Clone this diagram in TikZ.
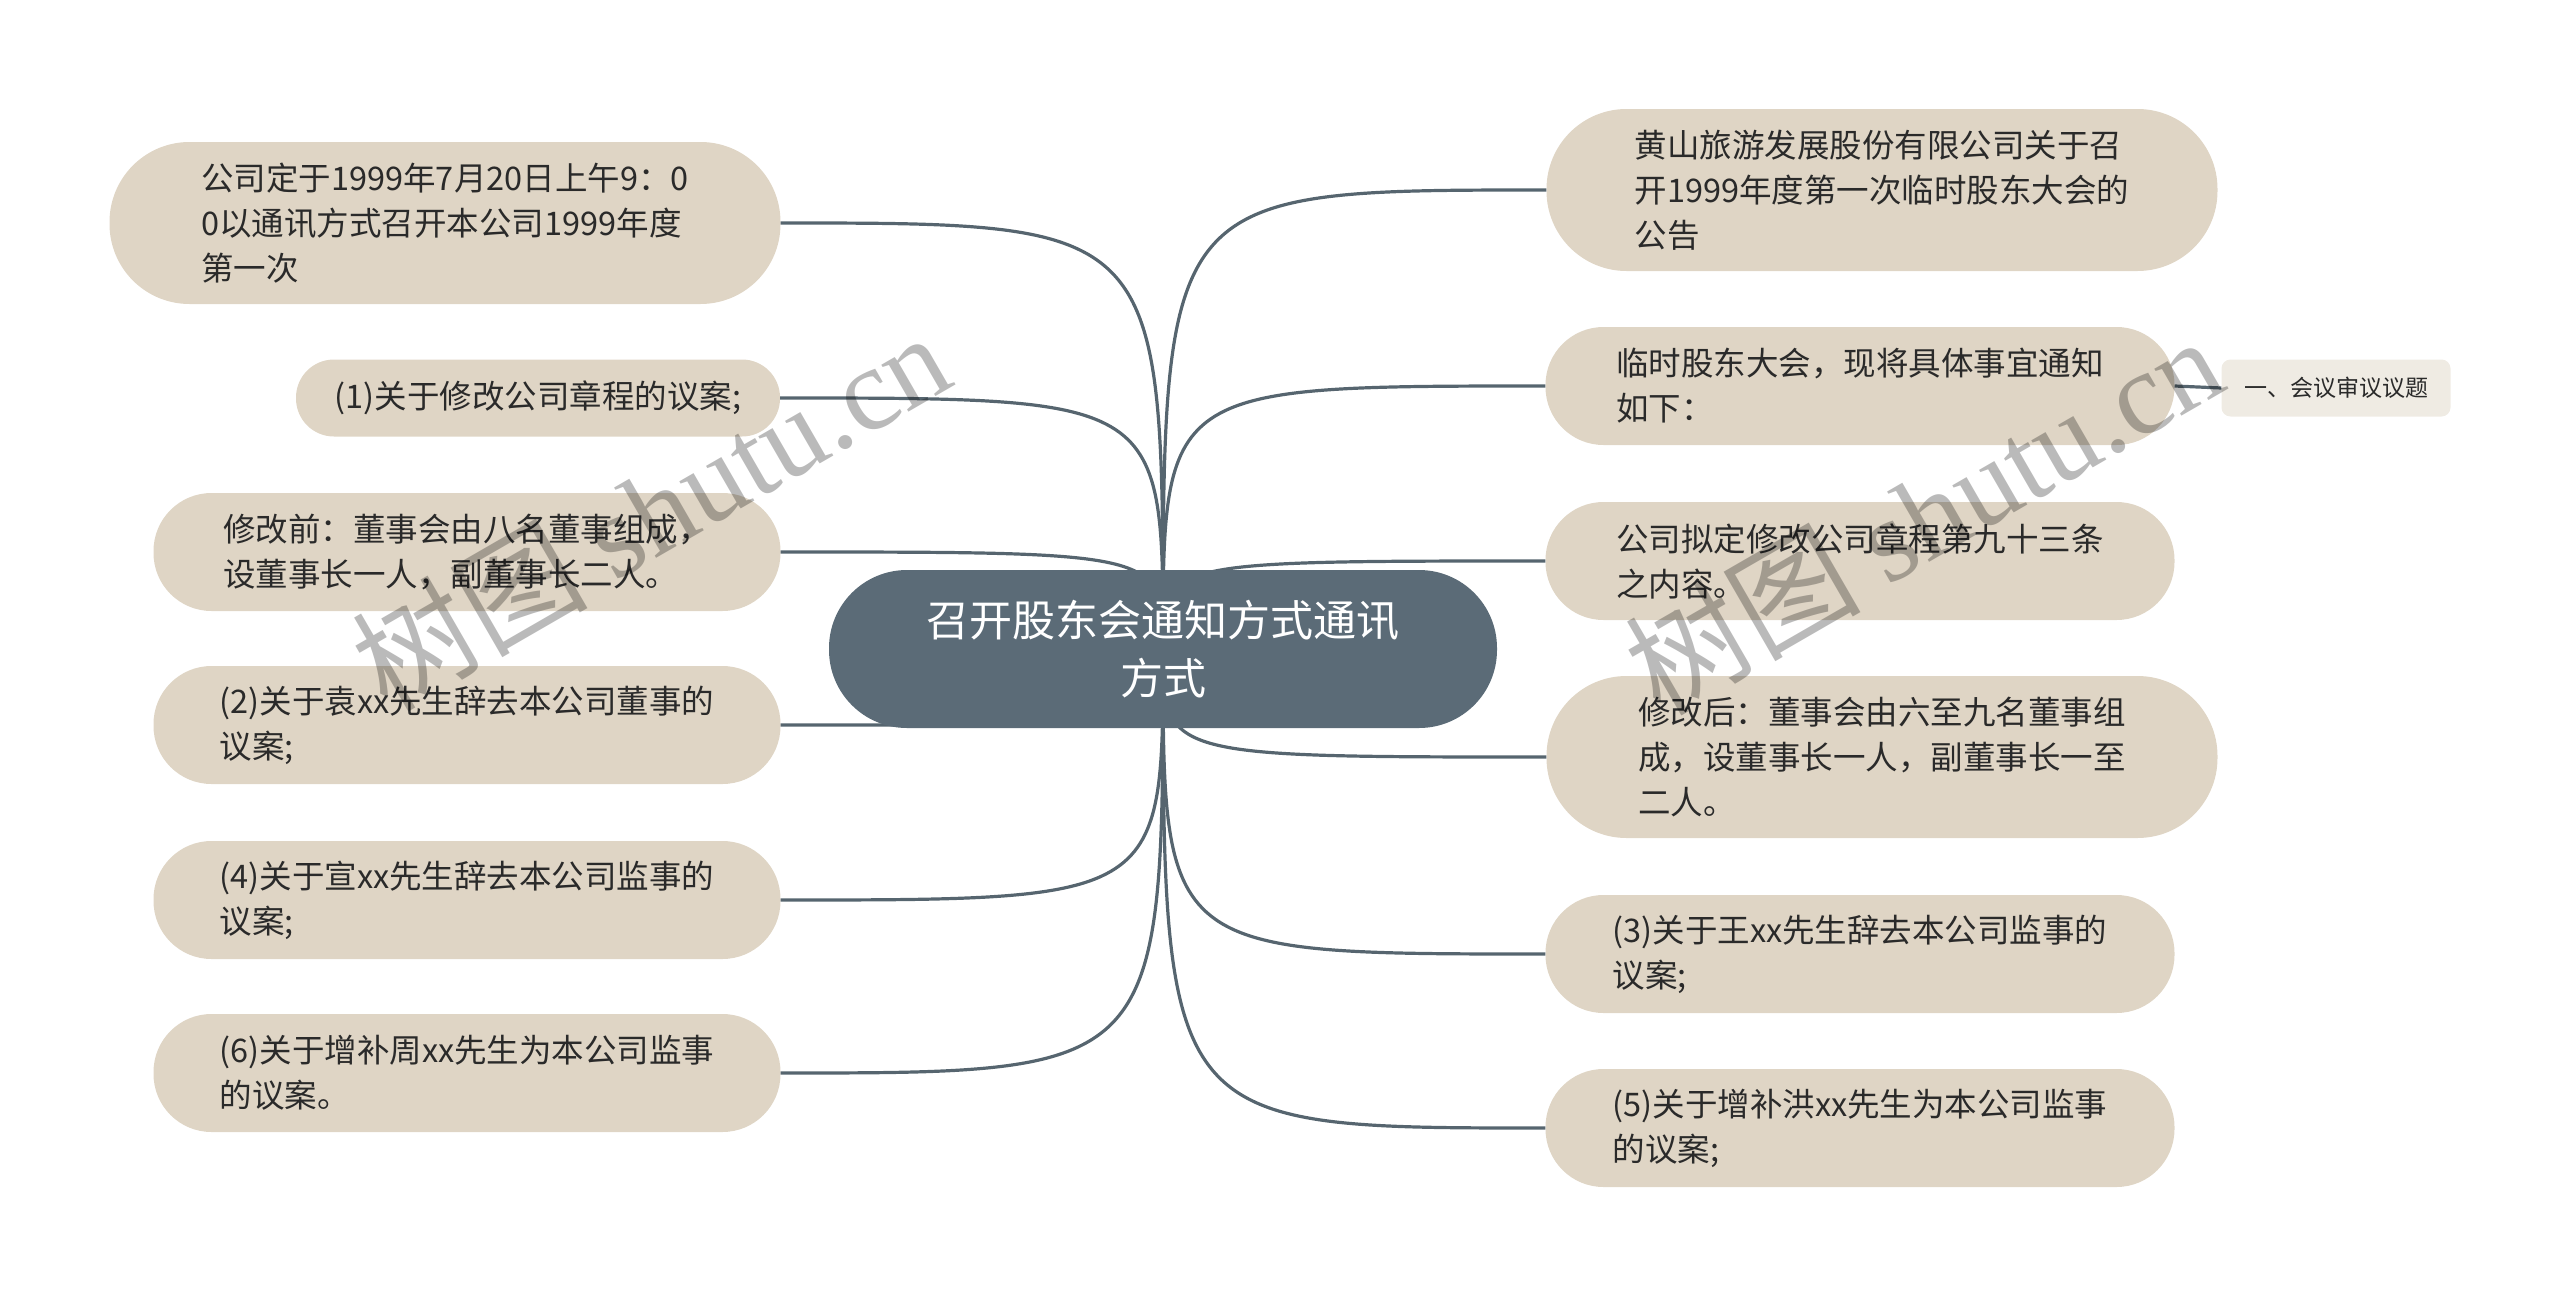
\documentclass[tikz,border=0pt]{standalone}
\usepackage{fontspec}
\setmainfont{Noto Sans CJK SC}
\newfontfamily\wmlatin{Liberation Serif}
\definecolor{beige}{HTML}{DFD5C5}
\definecolor{beigelight}{HTML}{EFEBE3}
\definecolor{slate}{HTML}{5B6B77}
\definecolor{linec}{HTML}{56656F}
\definecolor{txt}{HTML}{2A2A2A}
\begin{document}
\begin{tikzpicture}[x=1pt,y=-1pt,
  conn/.style={draw=linec, line width=3.2pt},
  topic/.style={rectangle, fill=beige, text=txt, align=left, inner sep=0pt,
    font=\fontsize{32.5}{45}\selectfont},
  big/.style={topic, minimum width=671pt, minimum height=162pt, rounded corners=80pt},
  mid/.style={topic, minimum width=627pt, minimum height=118pt, rounded corners=58pt},
  rootbox/.style={rectangle, fill=slate, text=white, align=center, inner sep=0pt,
    minimum width=668pt, minimum height=158pt, rounded corners=78pt,
    font=\fontsize{43}{58}\selectfont},
  subbox/.style={rectangle, fill=beigelight, text=txt, inner sep=0pt,
    minimum width=229pt, minimum height=57pt, rounded corners=9pt,
    font=\fontsize{23}{28}\selectfont},
  wm/.style={text=black, opacity=0.27, rotate=30, font=\fontsize{118}{118}\selectfont}
]
\useasboundingbox (0,0) rectangle (2560,1298);

% left nodes
\node[big] (L1) at (445,223) {公司定于1999年7月20日上午9：0\\0以通讯方式召开本公司1999年度\\第一次};
\node[topic, minimum width=484pt, minimum height=77pt, rounded corners=38pt] (L2) at (538,398) {(1)关于修改公司章程的议案;};
\node[mid] (L3) at (467,552) {修改前：董事会由八名董事组成，\\设董事长一人，副董事长二人。};
\node[mid] (L4) at (467,725) {(2)关于袁xx先生辞去本公司董事的\\议案;};
\node[mid] (L5) at (467,900) {(4)关于宣xx先生辞去本公司监事的\\议案;};
\node[mid] (L6) at (467,1073) {(6)关于增补周xx先生为本公司监事\\的议案。};

% right nodes
\node[big] (R1) at (1882,190) {黄山旅游发展股份有限公司关于召\\开1999年度第一次临时股东大会的\\公告};
\node[mid, minimum width=629pt] (R2) at (1860,386) {临时股东大会，现将具体事宜通知\\如下：};
\node[subbox] (R2c) at (2336,388) {一、会议审议议题};
\node[mid, minimum width=629pt] (R3) at (1860,561) {公司拟定修改公司章程第九十三条\\之内容。};
\node[big] (R4) at (1882,757) {修改后：董事会由六至九名董事组\\成，设董事长一人，副董事长一至\\二人。};
\node[mid, minimum width=629pt] (R5) at (1860,954) {(3)关于王xx先生辞去本公司监事的\\议案;};
\node[mid, minimum width=629pt] (R6) at (1860,1128) {(5)关于增补洪xx先生为本公司监事\\的议案;};

% root centre
\coordinate (rc) at (1163,649);

% connectors
\foreach \n in {L1,L2,L3,L4,L5,L6}{
  \draw[conn] (rc) .. controls (rc |- \n.east) .. (\n.east);
}
\foreach \n in {R1,R2,R3,R4,R5,R6}{
  \draw[conn] (rc) .. controls (rc |- \n.west) .. (\n.west);
}
\draw[conn] (R2.east) -- (R2c.west);

\node[rootbox] (root) at (rc) {召开股东会通知方式通讯\\方式};

% watermarks
\node[wm] (wm1) at (650,510) {树图 {\wmlatin shutu.cn}};
\node[wm] (wm2) at (1923,514) {树图 {\wmlatin shutu.cn}};
\end{tikzpicture}
\end{document}
